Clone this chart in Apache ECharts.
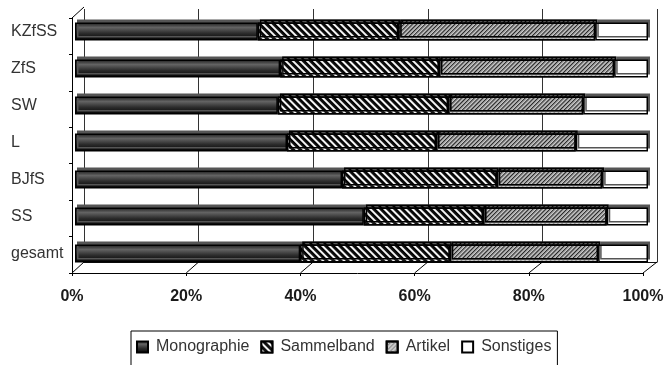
<!DOCTYPE html>
<html>
<head>
<meta charset="utf-8">
<script src="https://cdn.jsdelivr.net/npm/echarts@6/dist/echarts.min.js"></script>
<style>
  html, body { margin: 0; padding: 0; background: #fff; }
  #chart { width: 667px; height: 365px; }
</style>
</head>
<body>
<div id="chart"></div>
<script>
// Publication types per journal, shares in percent
const categories = ['KZfSS', 'ZfS', 'SW', 'L', 'BJfS', 'SS', 'gesamt'];
const monographie = [31.9, 35.8, 35.4, 37.0, 46.6, 50.4, 39.3];
const sammelband  = [24.5, 27.7, 29.7, 26.0, 27.0, 20.8, 26.1];
const artikel     = [34.4, 30.6, 23.6, 24.4, 18.4, 21.6, 25.9];
const sonstiges   = [9.2, 5.9, 11.3, 12.6, 8.0, 7.2, 8.7];
const xTicks = [0, 20, 40, 60, 80, 100];

const font = '"Liberation Sans", Arial, sans-serif';
const chart = echarts.init(document.getElementById('chart'), null, { renderer: 'canvas' });

const barBase = {
  type: 'bar',
  stack: 'all',
  xAxisIndex: 2,
  yAxisIndex: 2,
  barWidth: 18,
  z: 5
};
const edge = { borderColor: '#000', borderWidth: 1.5, shadowColor: '#555', shadowOffsetX: 2, shadowOffsetY: -3 };

chart.setOption({
  backgroundColor: '#fff',
  animation: false,
  grid: [
    // back wall
    { left: 84, right: 10, top: 9, bottom: 103 },
    // front frame (floor edge and left axis)
    { left: 72, right: 24, top: 18, bottom: 92 },
    // bars
    { left: 75, right: 19, top: 13, bottom: 93 }
  ],
  xAxis: [
    {
      gridIndex: 0, type: 'value', min: 0, max: 100, interval: 20, position: 'top',
      axisLine: { show: true, lineStyle: { color: '#111', width: 1 } },
      axisTick: { show: false }, axisLabel: { show: false },
      splitLine: { show: true, lineStyle: { color: '#333', width: 1 } }
    },
    {
      gridIndex: 1, type: 'value', min: 0, max: 100, interval: 20,
      axisLine: { show: true, lineStyle: { color: '#000', width: 1 } },
      axisTick: { show: true, length: 3, inside: false, lineStyle: { color: '#000' } },
      splitLine: { show: false },
      axisLabel: {
        formatter: '{value}%', margin: 16,
        fontFamily: font, fontSize: 16, fontWeight: 'bold', color: '#1a1a1a'
      }
    },
    {
      gridIndex: 2, type: 'value', min: 0, max: 100, show: false
    }
  ],
  yAxis: [
    { gridIndex: 0, type: 'value', min: 0, max: 1, show: false },
    {
      gridIndex: 1, type: 'category', data: categories, inverse: true,
      axisLine: { show: true, lineStyle: { color: '#000', width: 1 } },
      axisTick: { show: true, length: 3, lineStyle: { color: '#000' } },
      axisLabel: { show: false }
    },
    {
      gridIndex: 2, type: 'category', data: categories, inverse: true,
      axisLine: { show: false }, axisTick: { show: false },
      axisLabel: {
        align: 'left', margin: 64,
        fontFamily: font, fontSize: 16, color: '#333'
      }
    }
  ],
  legend: {
    left: 131, top: 331,
    padding: [8, 6, 12, 5],
    borderColor: '#000', borderWidth: 1,
    itemWidth: 11, itemHeight: 11, itemGap: 11,
    icon: 'rect',
    textStyle: { fontFamily: font, fontSize: 16, color: '#333', padding: [0, 0, 0, 3] },
    data: ['Monographie', 'Sammelband', 'Artikel', 'Sonstiges']
  },
  series: [
    Object.assign({}, barBase, {
      name: 'Monographie', data: monographie,
      itemStyle: Object.assign({
        color: new echarts.graphic.LinearGradient(0, 0, 0, 1, [
          { offset: 0, color: '#1a1a1a' },
          { offset: 0.28, color: '#636363' },
          { offset: 0.6, color: '#2c2c2c' },
          { offset: 1, color: '#000' }
        ])
      }, edge)
    }),
    Object.assign({}, barBase, {
      name: 'Sammelband', data: sammelband,
      itemStyle: Object.assign({
        color: '#111',
        decal: {
          symbol: 'rect', symbolSize: 1, color: '#f4f4f4',
          dashArrayX: [1, 0], dashArrayY: [2, 3], rotation: Math.PI / 4
        }
      }, edge)
    }),
    Object.assign({}, barBase, {
      name: 'Artikel', data: artikel,
      itemStyle: Object.assign({
        color: '#c8c8c8',
        decal: {
          symbol: 'rect', symbolSize: 1, color: '#8a8a8a',
          dashArrayX: [1, 0], dashArrayY: [1, 2], rotation: -Math.PI / 4
        }
      }, edge)
    }),
    Object.assign({}, barBase, {
      name: 'Sonstiges', data: sonstiges,
      itemStyle: Object.assign({ color: '#fff' }, edge)
    }),
    {
      // floor edges and the top edge of the side wall
      type: 'custom',
      xAxisIndex: 1, yAxisIndex: 1,
      silent: true, z: 1,
      data: xTicks.map(v => [v, categories.length - 1]),
      renderItem: function (params, api) {
        const v = api.value(0);
        const p = api.coord([v, api.value(1)]);
        const half = api.size([0, 1])[1] / 2;
        const x = p[0], yb = p[1] + half;
        const dx = 12 + 2 * v / 100, dy = -11;
        const style = { stroke: '#000', lineWidth: 1 };
        const children = [{
          type: 'line', shape: { x1: x, y1: yb, x2: x + dx, y2: yb + dy }, style: style
        }];
        if (params.dataIndex === 0) {
          const top = api.coord([v, 0])[1] - half;
          children.push({
            type: 'line', shape: { x1: x, y1: top, x2: x + dx, y2: top + dy }, style: style
          });
        }
        return { type: 'group', children: children };
      }
    }
  ]
});
</script>
</body>
</html>
